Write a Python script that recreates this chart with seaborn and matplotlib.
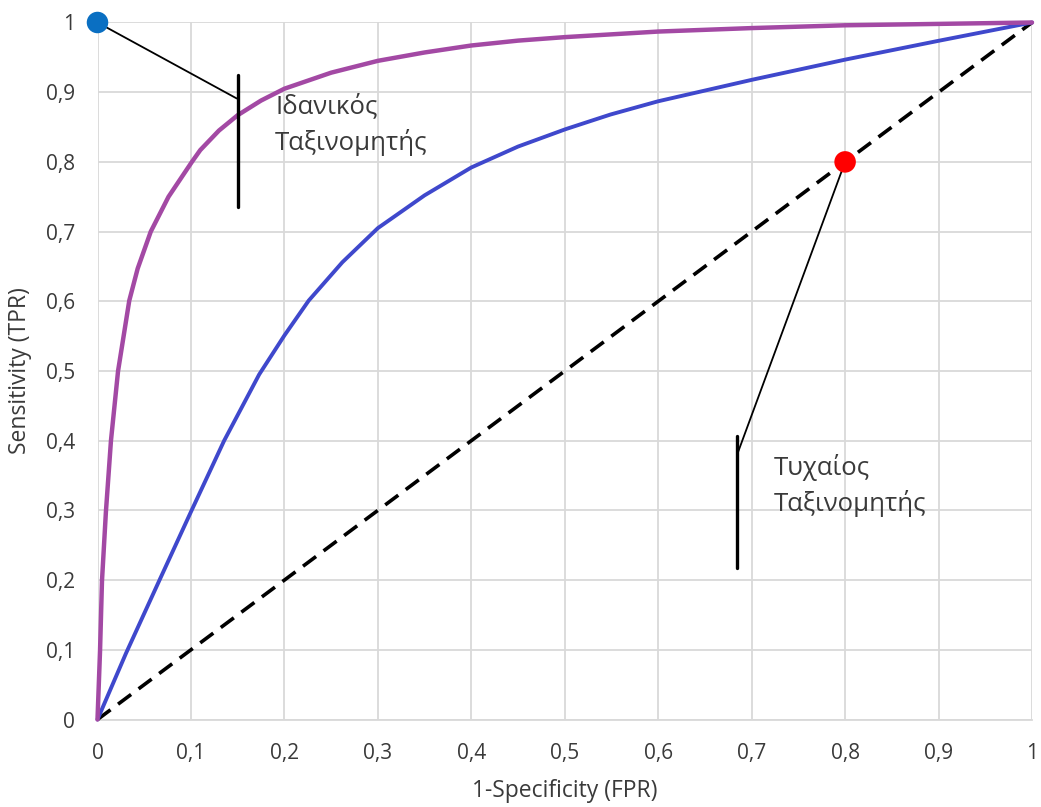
import numpy as np
import pandas as pd
import matplotlib
matplotlib.use("Agg")
import matplotlib.pyplot as plt
import seaborn as sns

# ---- data ----
ideal_fpr = [0, 0.0027, 0.0048, 0.009, 0.0144, 0.022, 0.034, 0.043, 0.057, 0.076, 0.101,
             0.110, 0.13, 0.15, 0.175, 0.20, 0.25, 0.30, 0.35, 0.40, 0.45, 0.50, 0.60, 0.70, 0.80, 0.90, 1.0]
ideal_tpr = [0, 0.098, 0.199, 0.298, 0.40, 0.50, 0.601, 0.647, 0.70, 0.75, 0.80,
             0.817, 0.845, 0.867, 0.888, 0.905, 0.928, 0.945, 0.957, 0.967, 0.974, 0.979, 0.987, 0.992, 0.996, 0.998, 1.0]

model_fpr = [0, 0.0305, 0.066, 0.100, 0.1355, 0.173, 0.200, 0.226, 0.262, 0.300, 0.350, 0.400,
             0.450, 0.501, 0.549, 0.600, 0.701, 0.801, 0.901, 1.0]
model_tpr = [0, 0.095, 0.199, 0.298, 0.40, 0.495, 0.551, 0.601, 0.656, 0.705, 0.752, 0.792,
             0.822, 0.847, 0.868, 0.887, 0.918, 0.947, 0.974, 1.0]

random_fpr = [0, 1]
random_tpr = [0, 1]

ideal_point = (0.0, 1.0)
random_point = (0.8, 0.8)

ideal_label = "Ιδανικός\nΤαξινομητής"
random_label = "Τυχαίος\nΤαξινομητής"
x_label = "1-Specificity (FPR)"
y_label = "Sensitivity (TPR)"
tick_values = [0, 0.1, 0.2, 0.3, 0.4, 0.5, 0.6, 0.7, 0.8, 0.9, 1.0]
tick_labels = ["0", "0,1", "0,2", "0,3", "0,4", "0,5", "0,6", "0,7", "0,8", "0,9", "1"]

# ---- styling ----
sns.set_style("whitegrid", {"grid.color": "#d9d9d9", "axes.edgecolor": "#d9d9d9"})
plt.rcParams["font.family"] = ["Open Sans", "DejaVu Sans"]
text_color = "#3a3a3a"

fig = plt.figure(figsize=(10.41, 8.07), dpi=100)
ax = fig.add_axes([97.5 / 1041, 1 - 719.5 / 807, (1032 - 97.5) / 1041, (719.5 - 22.5) / 807])

df_ideal = pd.DataFrame({"fpr": ideal_fpr, "tpr": ideal_tpr})
df_model = pd.DataFrame({"fpr": model_fpr, "tpr": model_tpr})
df_rand = pd.DataFrame({"fpr": random_fpr, "tpr": random_tpr})

sns.lineplot(data=df_rand, x="fpr", y="tpr", ax=ax, color="black", linewidth=2.6,
             sort=False, estimator=None, zorder=3)
ax.lines[-1].set_dashes((4.5, 2.6))
sns.lineplot(data=df_model, x="fpr", y="tpr", ax=ax, color="#3f48cc", linewidth=2.8,
             sort=False, estimator=None, zorder=4)
sns.lineplot(data=df_ideal, x="fpr", y="tpr", ax=ax, color="#a349a4", linewidth=3.2,
             sort=False, estimator=None, zorder=5)
for ln in ax.lines:
    ln.set_clip_on(False)
    ln.set_solid_joinstyle("round")

# annotations
ax.plot([ideal_point[0], 0.149], [ideal_point[1], 0.891], color="black", lw=1.3, zorder=6, clip_on=False)
ax.plot([0.150, 0.150], [0.925, 0.735], color="black", lw=2.4, zorder=6)
ax.plot([random_point[0], 0.685], [random_point[1], 0.382], color="black", lw=1.3, zorder=6)
ax.plot([0.684, 0.684], [0.407, 0.217], color="black", lw=2.4, zorder=6)

sns.scatterplot(x=[ideal_point[0]], y=[ideal_point[1]], ax=ax, color="#0a6fc2", s=240,
                edgecolor="none", zorder=8, clip_on=False)
sns.scatterplot(x=[random_point[0]], y=[random_point[1]], ax=ax, color="#ff0000", s=240,
                edgecolor="none", zorder=8, clip_on=False)

ax.text(0.190, 0.853, ideal_label, fontsize=18.5, color=text_color, va="center", ha="left",
        linespacing=1.45, zorder=7)
ax.text(0.724, 0.336, random_label, fontsize=18.5, color=text_color, va="center", ha="left",
        linespacing=1.45, zorder=7)

ax.set_xlim(0, 1)
ax.set_ylim(0, 1)
ax.set_xticks(tick_values)
ax.set_xticklabels(tick_labels)
ax.set_yticks(tick_values)
ax.set_yticklabels(tick_labels)
ax.tick_params(axis="both", length=0, labelsize=15, labelcolor=text_color)
ax.tick_params(axis="y", pad=16)
ax.tick_params(axis="x", pad=17)
ax.grid(True, color="#d9d9d9", linewidth=1.3)
for s in ["top", "right", "left"]:
    ax.spines[s].set_visible(False)
ax.spines["bottom"].set_color("#d9d9d9")
ax.spines["bottom"].set_linewidth(1.3)

ax.set_xlabel(x_label, fontsize=16.5, color=text_color)
ax.set_ylabel(y_label, fontsize=16.5, color=text_color)
ax.xaxis.set_label_coords(0.5, -0.085)
ax.yaxis.set_label_coords(-0.07, 0.5)

fig.savefig("out.png", dpi=100)
